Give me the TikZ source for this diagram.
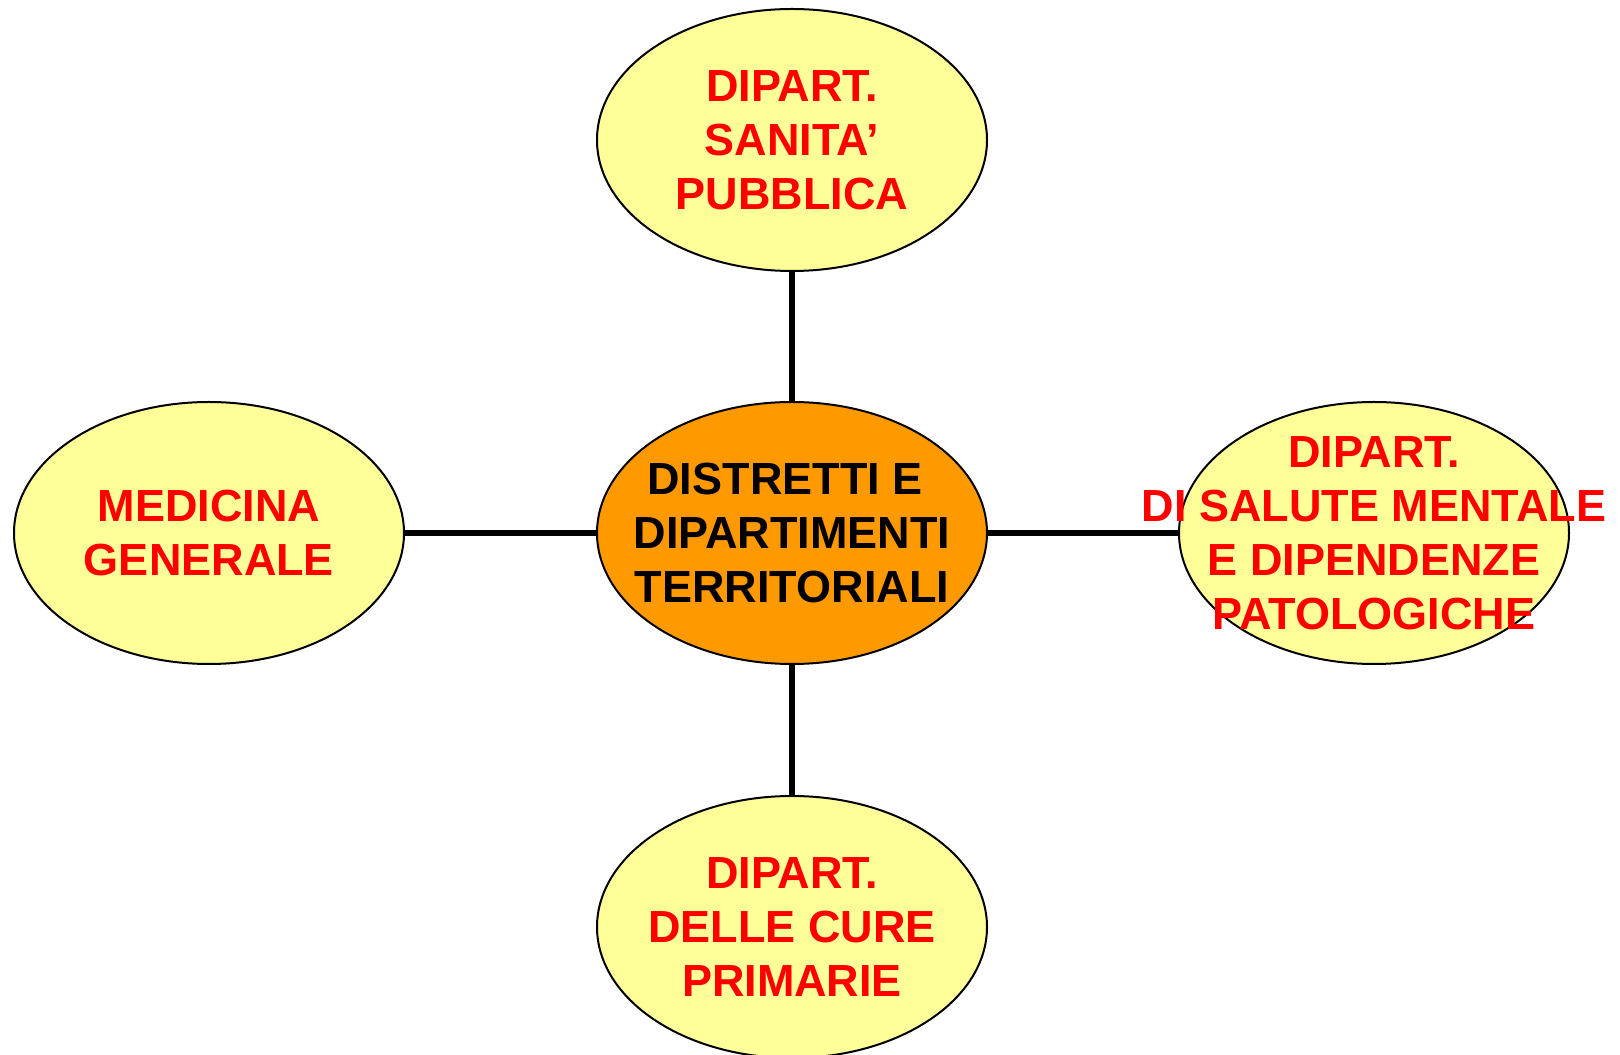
\documentclass[tikz,border=0pt]{standalone}
\usepackage{fontspec}
\setmainfont{Liberation Sans}
\usetikzlibrary{shapes.geometric}
\definecolor{paleyellow}{HTML}{FFFF99}
\definecolor{deporange}{HTML}{FF9900}
\definecolor{depred}{HTML}{FF0000}

\begin{document}
\begin{tikzpicture}[line cap=round,line join=round,x=1pt,y=1pt,
  dept/.style={ellipse,draw,line width=2pt,fill=paleyellow,minimum width=390pt,minimum height=262pt,inner sep=0pt},
  deptext/.style={text=depred,font=\fontsize{45}{54}\selectfont\bfseries,align=center},
  conn/.style={line width=6pt,line cap=butt}]
\useasboundingbox (0,0) rectangle (1620,1055);
% ellipses
\node[dept,fill=deporange] (dist) at (792,522) {};
\node[dept] (sanpub) at (792,915) {};
\node[dept] (medgen) at (209,522) {};
\node[dept] (salment) at (1374,522) {};
\node[dept] (curepr) at (792,128) {};
% connectors
\draw[conn] (dist) -- (sanpub);
\draw[conn] (dist) -- (medgen);
\draw[conn] (dist) -- (salment);
\draw[conn] (dist) -- (curepr);
% texts
\node[deptext,text=black] at (dist) {DISTRETTI E\hspace*{14pt}\\DIPARTIMENTI\\TERRITORIALI};
\node[deptext] at (sanpub) {DIPART.\\SANITA'\\PUBBLICA};
\node[deptext] at (medgen) {MEDICINA\\GENERALE};
\node[deptext] at (salment) {DIPART.\\DI SALUTE MENTALE\\E DIPENDENZE\\PATOLOGICHE};
\node[deptext] at (curepr) {DIPART.\\DELLE CURE\\PRIMARIE};
\end{tikzpicture}
\end{document}
